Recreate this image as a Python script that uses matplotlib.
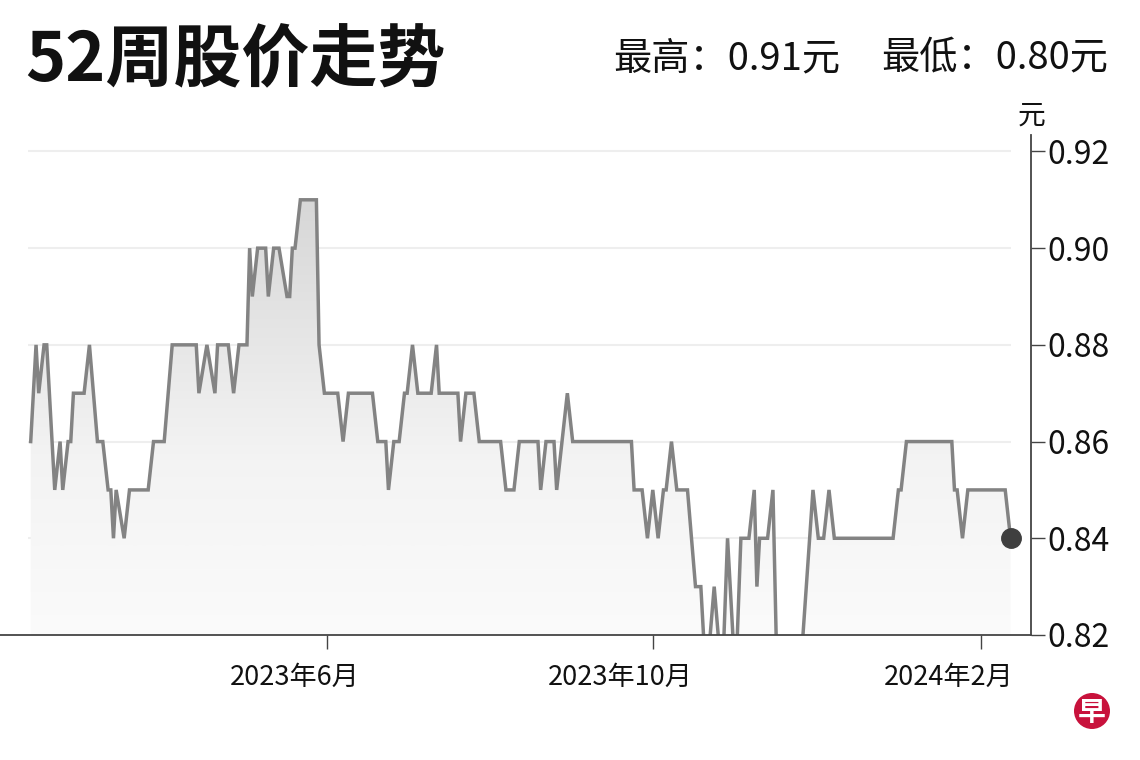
import numpy as np
import pandas as pd
import matplotlib
matplotlib.use('Agg')
import matplotlib.pyplot as plt
import matplotlib.dates as mdates
import matplotlib.transforms as mtransforms
from matplotlib.colors import LinearSegmentedColormap
from matplotlib.patches import Ellipse

plt.rcParams['font.family'] = ['Noto Sans CJK SC', 'DejaVu Sans']

# 52周股价（读图得到的折线拐点）
dates = [
    '2023-02-10', '2023-02-12', '2023-02-13', '2023-02-15', '2023-02-16', '2023-02-19',
    '2023-02-21', '2023-02-22', '2023-02-24', '2023-02-25', '2023-02-26', '2023-03-02',
    '2023-03-04', '2023-03-07', '2023-03-09', '2023-03-11', '2023-03-12', '2023-03-13',
    '2023-03-14', '2023-03-17', '2023-03-19', '2023-03-26', '2023-03-28', '2023-04-01',
    '2023-04-04', '2023-04-13', '2023-04-14', '2023-04-17', '2023-04-20', '2023-04-21',
    '2023-04-25', '2023-04-27', '2023-04-29', '2023-05-02', '2023-05-03', '2023-05-04',
    '2023-05-06', '2023-05-09', '2023-05-10', '2023-05-12', '2023-05-14', '2023-05-17',
    '2023-05-18', '2023-05-19', '2023-05-20', '2023-05-22', '2023-05-28', '2023-05-29',
    '2023-05-31', '2023-06-05', '2023-06-07', '2023-06-09', '2023-06-18', '2023-06-20',
    '2023-06-23', '2023-06-24', '2023-06-26', '2023-06-28', '2023-06-30', '2023-07-01',
    '2023-07-03', '2023-07-05', '2023-07-10', '2023-07-12', '2023-07-13', '2023-07-20',
    '2023-07-21', '2023-07-23', '2023-07-26', '2023-07-28', '2023-08-05', '2023-08-07',
    '2023-08-10', '2023-08-12', '2023-08-19', '2023-08-20', '2023-08-22', '2023-08-25',
    '2023-08-26', '2023-08-30', '2023-09-01', '2023-09-23', '2023-09-24', '2023-09-27',
    '2023-09-29', '2023-10-01', '2023-10-03', '2023-10-05', '2023-10-06', '2023-10-08',
    '2023-10-10', '2023-10-14', '2023-10-17', '2023-10-19', '2023-10-21', '2023-10-24',
    '2023-10-27', '2023-10-29', '2023-11-01', '2023-11-03', '2023-11-06', '2023-11-08',
    '2023-11-09', '2023-11-10', '2023-11-13', '2023-11-15', '2023-11-17', '2023-11-21',
    '2023-11-25', '2023-11-30', '2023-12-02', '2023-12-04', '2023-12-06', '2023-12-08',
    '2023-12-30', '2024-01-01', '2024-01-02', '2024-01-04', '2024-01-21', '2024-01-22',
    '2024-01-23', '2024-01-25', '2024-01-27', '2024-02-10', '2024-02-12',
]
prices = [
    0.86, 0.88, 0.87, 0.88, 0.88, 0.85,
    0.86, 0.85, 0.86, 0.86, 0.87, 0.87,
    0.88, 0.86, 0.86, 0.85, 0.85, 0.84,
    0.85, 0.84, 0.85, 0.85, 0.86, 0.86,
    0.88, 0.88, 0.87, 0.88, 0.87, 0.88,
    0.88, 0.87, 0.88, 0.88, 0.90, 0.89,
    0.90, 0.90, 0.89, 0.90, 0.90, 0.89,
    0.89, 0.90, 0.90, 0.91, 0.91, 0.88,
    0.87, 0.87, 0.86, 0.87, 0.87, 0.86,
    0.86, 0.85, 0.86, 0.86, 0.87, 0.87,
    0.88, 0.87, 0.87, 0.88, 0.87, 0.87,
    0.86, 0.87, 0.87, 0.86, 0.86, 0.85,
    0.85, 0.86, 0.86, 0.85, 0.86, 0.86,
    0.85, 0.87, 0.86, 0.86, 0.85, 0.85,
    0.84, 0.85, 0.84, 0.85, 0.85, 0.86,
    0.85, 0.85, 0.83, 0.83, 0.81, 0.83,
    0.81, 0.84, 0.81, 0.84, 0.84, 0.85,
    0.83, 0.84, 0.84, 0.85, 0.80, 0.80,
    0.81, 0.85, 0.84, 0.84, 0.85, 0.84,
    0.84, 0.85, 0.85, 0.86, 0.86, 0.85,
    0.85, 0.84, 0.85, 0.85, 0.84,
]

tick_dates = ['2023-06-01', '2023-10-01', '2024-02-01']
tick_labels = ['2023年6月', '2023年10月', '2024年2月']
y_ticks = [0.82, 0.84, 0.86, 0.88, 0.90, 0.92]

title = '52周股价走势'
high_text = '最高：0.91元'
low_text = '最低：0.80元'

x = pd.to_datetime(dates)
xn = mdates.date2num(x)

fig = plt.figure(figsize=(11.4, 7.6), dpi=100)
ax = fig.add_axes([0.0, 0.1645, 0.9044, 0.6585])

y_lo, y_hi = 0.82, 0.9235
x_lo = mdates.date2num(pd.Timestamp('2023-01-29 12:00'))
x_hi = mdates.date2num(pd.Timestamp('2024-02-19 16:00'))

# 网格线
ax.hlines(y_ticks[1:], xn[0] - 1, xn[-1], colors='#eeeeee', linewidth=1.5, zorder=0)

# 渐变填充
poly = ax.fill_between(xn, prices, 0.70, facecolor='none', edgecolor='none')
clip = poly.get_paths()[0]
cmap = LinearSegmentedColormap.from_list('g', ['#ffffff', '#f3f3f3', '#d4d4d4'])
grad = np.linspace(0, 1, 512).reshape(-1, 1)
img = ax.imshow(grad, extent=[x_lo, x_hi, 0.80, 0.915], origin='lower',
                aspect='auto', cmap=cmap, zorder=1, interpolation='bilinear')
img.set_clip_path(clip, transform=ax.transData)

ax.plot(xn, prices, color='#838383', linewidth=2.5, zorder=3, solid_joinstyle='miter')
ax.plot(xn[-1], prices[-1], 'o', ms=14, color='#3f3f3f', zorder=5, clip_on=False)

ax.set_xlim(x_lo, x_hi)
ax.set_ylim(y_lo, y_hi)

for s in ['left', 'top']:
    ax.spines[s].set_visible(False)
for s in ['right', 'bottom']:
    ax.spines[s].set_color('#444444')
    ax.spines[s].set_linewidth(1.3)
    ax.spines[s].set_zorder(6)

ax.yaxis.tick_right()
ax.set_yticks(y_ticks)
ax.set_yticklabels(['%.2f' % v for v in y_ticks])
ax.tick_params(axis='y', length=10, width=1.0, color='#444444', pad=2,
               labelsize=23, labelcolor='#111111')

ax.set_xticks(mdates.date2num(pd.to_datetime(tick_dates)))
ax.set_xticklabels(tick_labels)
ax.tick_params(axis='x', length=10, width=1.0, color='#444444', pad=11,
               labelsize=19.5, labelcolor='#111111')
# 标签相对刻度整体左移
shift = mtransforms.ScaledTranslation(-32 / 100, 0, fig.dpi_scale_trans)
for lab in ax.get_xticklabels():
    lab.set_transform(lab.get_transform() + shift)

fig.text(1032 / 1140, 1 - 116 / 760, '元', ha='center', va='center',
         fontsize=20, color='#111111')

fig.text(25 / 1140, 1 - 62 / 760, title, ha='left', va='center',
         fontsize=49, fontweight='bold', color='#111111')
fig.text(613 / 1140, 1 - 59 / 760, high_text, ha='left', va='center',
         fontsize=27.5, color='#111111')
fig.text(1108 / 1140, 1 - 59 / 760, low_text, ha='right', va='center',
         fontsize=27.5, color='#111111')

# 右下角标志
cx, cy = 1092 / 1140, 1 - 711 / 760
fig.patches.append(Ellipse((cx, cy), 36 / 1140, 36 / 760, transform=fig.transFigure,
                           facecolor='#c8123c', edgecolor='none', figure=fig))
fig.text(cx, cy - 0.003, '早', ha='center', va='center', fontsize=20,
         fontweight='bold', color='white')

fig.savefig('out.png', dpi=100)
